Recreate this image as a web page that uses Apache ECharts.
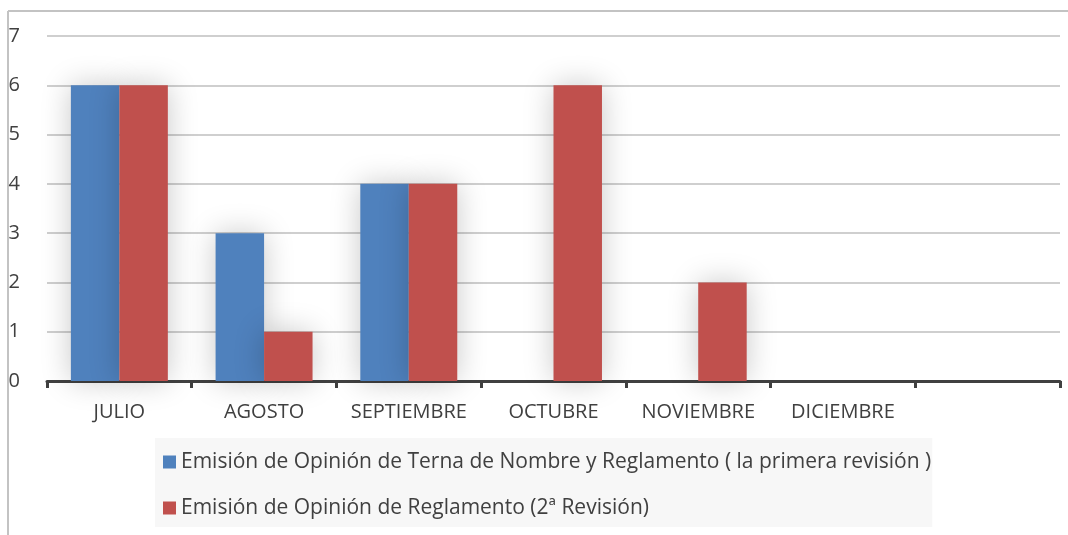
<!DOCTYPE html>
<html>
<head>
<meta charset="utf-8">
<style>
  html, body { margin: 0; padding: 0; background: #fff; }
  #main { width: 1068px; height: 535px; }
</style>
<script src="https://cdn.jsdelivr.net/npm/echarts@6/dist/echarts.min.js"></script>
</head>
<body>
<div id="main"></div>
<script>
// datos del grafico
var meses = ['JULIO', 'AGOSTO', 'SEPTIEMBRE', 'OCTUBRE', 'NOVIEMBRE', 'DICIEMBRE', ''];
var primeraRevision = [6, 3, 4, 0, 0, 0, null];
var segundaRevision = [6, 1, 4, 6, 2, 0, null];
var nombreSerie1 = 'Emisión de Opinión de Terna de Nombre y Reglamento ( la primera revisión )';
var nombreSerie2 = 'Emisión de Opinión de Reglamento (2ª Revisión)';

var myChart = echarts.init(document.getElementById('main'));

var sombra = {
    shadowBlur: 30,
    shadowColor: 'rgba(0,0,0,0.22)'
};

var option = {
    backgroundColor: '#fff',
    animation: false,
    textStyle: { fontFamily: 'Open Sans' },
    graphic: [
        { type: 'line', shape: { x1: 8, y1: 11, x2: 1068, y2: 11 }, style: { stroke: '#c3c3c3', lineWidth: 2 } },
        { type: 'line', shape: { x1: 8, y1: 11, x2: 8, y2: 535 }, style: { stroke: '#c3c3c3', lineWidth: 2 } }
    ],
    grid: {
        left: 47,
        right: 8,
        top: 36,
        bottom: 154
    },
    legend: {
        orient: 'vertical',
        left: 155,
        top: 438,
        backgroundColor: '#f7f7f7',
        padding: [13, 1, 8, 8],
        itemGap: 24,
        itemWidth: 13,
        itemHeight: 13,
        icon: 'rect',
        textStyle: { fontSize: 21, color: '#404040', lineHeight: 22, fontFamily: 'Open Sans' },
        data: [nombreSerie1, nombreSerie2]
    },
    xAxis: {
        type: 'category',
        data: meses,
        axisLine: { lineStyle: { color: '#404040', width: 3 } },
        axisTick: { show: true, interval: 0, length: 7, lineStyle: { color: '#404040', width: 3 } },
        axisLabel: { interval: 0, margin: 21, fontSize: 20, color: '#404040' }
    },
    yAxis: {
        type: 'value',
        min: 0,
        max: 7,
        interval: 1,
        axisLine: { show: false },
        axisTick: { show: false },
        axisLabel: { margin: 27, fontSize: 20, color: '#404040' },
        splitLine: { lineStyle: { color: '#cfcfcf', width: 2 } }
    },
    series: [{
        name: nombreSerie1,
        type: 'bar',
        data: primeraRevision,
        barGap: '0%',
        barCategoryGap: '33%',
        itemStyle: Object.assign({ color: '#4f81bd' }, sombra)
    }, {
        name: nombreSerie2,
        type: 'bar',
        data: segundaRevision,
        barGap: '0%',
        barCategoryGap: '33%',
        itemStyle: Object.assign({ color: '#c0504d' }, sombra)
    }]
};

myChart.setOption(option);
</script>
</body>
</html>
